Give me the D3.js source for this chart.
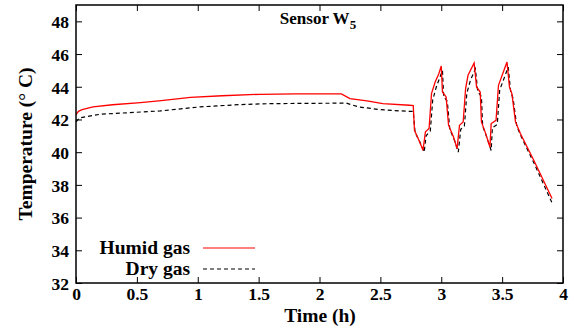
<!DOCTYPE html>
<html><head><meta charset="utf-8">
<script src="https://cdn.jsdelivr.net/npm/d3@7"></script>
<style>body{margin:0;background:#fff}svg{display:block}svg text{font-family:"Liberation Serif","Times New Roman","DejaVu Serif",serif !important;font-weight:bold;fill:#000}</style>
</head><body>
<script>
const xTicks = [0, 0.5, 1, 1.5, 2, 2.5, 3, 3.5, 4];
const xTickLabels = ["0", "0.5", "1", "1.5", "2", "2.5", "3", "3.5", "4"];
const yTicks = [32, 34, 36, 38, 40, 42, 44, 46, 48];
const seriesNames = ["Humid gas", "Dry gas"];
const humidTime = [0,0.02,0.05,0.14,0.3,0.53,0.7,0.94,1.2,1.51,1.8,2.18,2.25,2.39,2.52,2.74,2.77,2.78,2.81,2.84,2.85,2.87,2.90,2.92,2.95,2.98,3.00,3.01,3.04,3.06,3.10,3.13,3.15,3.18,3.20,3.22,3.27,3.29,3.32,3.33,3.36,3.40,3.41,3.45,3.47,3.51,3.54,3.56,3.58,3.61,3.65,3.76,3.91];
const humidTemp = [42.3,42.5,42.6,42.77,42.9,43.03,43.15,43.35,43.45,43.54,43.56,43.56,43.28,43.14,42.97,42.87,42.85,41.34,40.84,40.32,40.12,41.24,41.45,43.58,44.29,44.8,45.27,43.68,43.38,41.65,40.94,40.22,41.65,41.85,43.89,44.7,45.45,43.99,43.68,41.85,41.24,40.32,41.75,41.95,44.09,44.9,45.51,43.99,43.58,41.85,41.14,39.51,37.17];
const dryTime = [0,0.03,0.2,0.69,1.02,1.35,1.6,2.22,2.32,2.5,2.72,2.77,2.785,2.82,2.86,2.875,2.91,2.93,2.96,3.01,3.02,3.05,3.07,3.11,3.14,3.16,3.19,3.21,3.24,3.28,3.30,3.33,3.34,3.37,3.41,3.42,3.46,3.48,3.52,3.55,3.57,3.59,3.62,3.66,3.77,3.91];
const dryTemp = [41.85,42.1,42.32,42.52,42.77,42.91,42.97,43.0,42.77,42.6,42.5,42.5,41.2,40.7,40.0,41.0,41.3,43.2,44.0,45.0,43.4,43.1,41.4,40.7,40.0,41.4,41.6,43.6,44.4,45.1,43.7,43.4,41.6,41.0,40.1,41.5,41.7,43.8,44.6,45.2,43.7,43.3,41.6,40.9,39.2,36.9];

const FONT = '"Liberation Serif","Times New Roman","DejaVu Serif",serif';
const W = 574, H = 330;
const L = 76, R = 563, T = 5, B = 283;
const svg = d3.select("body").append("svg").attr("width", W).attr("height", H)
  .attr("font-family", FONT).attr("font-weight","bold");
const x = d3.scaleLinear().domain([0, 4]).range([L, R]);
const y = d3.scaleLinear().domain([32, 49]).range([B, T]);

function styleAxis(g){
  g.attr("font-family", FONT).attr("font-weight","bold");
  g.select(".domain").remove();
  g.selectAll(".tick line").attr("stroke","#000").attr("stroke-width",1);
}
svg.append("g").attr("transform", `translate(0,${B})`)
  .call(d3.axisBottom(x).tickValues(xTicks).tickFormat((d,i)=>xTickLabels[i]).tickSizeInner(-6).tickSizeOuter(0).tickPadding(10))
  .call(styleAxis)
  .call(g=>g.selectAll("text").attr("font-size",17.5).attr("y",17).attr("dy","0"));
svg.append("g").attr("transform", `translate(0,${T})`)
  .call(d3.axisTop(x).tickValues(xTicks).tickFormat("").tickSizeInner(-6).tickSizeOuter(0))
  .call(styleAxis);
svg.append("g").attr("transform", `translate(${L},0)`)
  .call(d3.axisLeft(y).tickValues(yTicks).tickSizeInner(-6).tickSizeOuter(0).tickPadding(8))
  .call(styleAxis)
  .call(g=>g.selectAll("text").attr("font-size",17.5).attr("x",-7).attr("dy","0.36em"));
svg.append("g").attr("transform", `translate(${R},0)`)
  .call(d3.axisRight(y).tickValues(yTicks).tickFormat("").tickSizeInner(-6).tickSizeOuter(0))
  .call(styleAxis);

const line = d3.line().x(d=>x(d[0])).y(d=>y(d[1]));
const humid = humidTime.map((t,i)=>[t, humidTemp[i]]);
const dry = dryTime.map((t,i)=>[t, dryTemp[i]]);
svg.append("path").datum(dry).attr("d", line).attr("fill","none").attr("stroke","#000").attr("stroke-width",1.2).attr("stroke-dasharray","4,3");
svg.append("path").datum(humid).attr("d", line).attr("fill","none").attr("stroke","#f00").attr("stroke-width",1.3);

svg.append("rect").attr("x",L).attr("y",T).attr("width",R-L).attr("height",B-T).attr("fill","none").attr("stroke","#000").attr("stroke-width",1.5);

const title = svg.append("text").attr("x",318).attr("y",24).attr("text-anchor","middle").attr("font-size",17);
title.append("tspan").text("Sensor W");
title.append("tspan").attr("dy",5).attr("font-size",13).text("5");

svg.append("text").attr("x",320).attr("y",322).attr("text-anchor","middle").attr("font-size",19.5).text("Time (h)");
svg.append("text").attr("transform","translate(32,144) rotate(-90)").attr("text-anchor","middle").attr("font-size",19.5).text("Temperature (° C)");

const lg = [{name:seriesNames[0], color:"#f00", dash:null, y:248},{name:seriesNames[1], color:"#000", dash:"4,3", y:269}];
lg.forEach(d=>{
  svg.append("text").attr("x",190).attr("y",d.y+6).attr("text-anchor","end").attr("font-size",19.5).text(d.name);
  svg.append("line").attr("x1",203).attr("x2",255).attr("y1",d.y).attr("y2",d.y).attr("stroke",d.color).attr("stroke-width",1.2).attr("stroke-dasharray",d.dash);
});
</script>
</body></html>
